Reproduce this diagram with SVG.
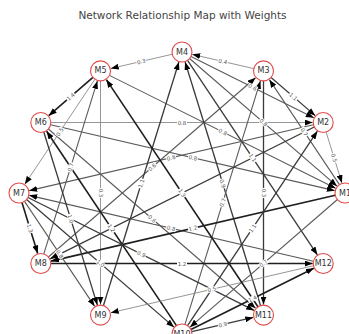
<svg xmlns="http://www.w3.org/2000/svg" width="349" height="334" viewBox="0 0 349 334">
<style>
.e1{stroke:#8a8a8a;stroke-width:0.9;fill:none}
.e2{stroke:#5a5a5a;stroke-width:1.1;fill:none}
.e3{stroke:#3a3a3a;stroke-width:1.3;fill:none}
.e4{stroke:#1e1e1e;stroke-width:1.6;fill:none}
.lbl rect{fill:#fff}
.lbl text{font-family:"DejaVu Sans",sans-serif;font-size:5.5px;fill:#555;text-anchor:middle;dominant-baseline:central}
.node circle{fill:#fff;stroke:#e04a4a;stroke-width:1.1}
.node text{font-family:"DejaVu Sans",sans-serif;font-size:8px;fill:#333;text-anchor:middle;dominant-baseline:central}
.title{font-family:"DejaVu Sans",sans-serif;font-size:10.5px;fill:#444;text-anchor:middle}
</style>
<defs>
<marker id="arr" markerUnits="userSpaceOnUse" markerWidth="8" markerHeight="6" refX="8" refY="3" orient="auto"><path d="M0,0 L8,3 L0,6 z" fill="#000"/></marker>
</defs>
<rect width="349" height="334" fill="#fff"/>
<text class="title" x="182.5" y="18.5">Network Relationship Map with Weights</text>
<g id="edges" marker-end="url(#arr)">
<line class="e1" x1="172.26" y1="54.26" x2="110.73" y2="68.53"/>
<line class="e1" x1="253.76" y1="68.64" x2="192.23" y2="54.37"/>
<line class="e4" x1="92.93" y1="77.44" x2="48.74" y2="115.63"/>
<line class="e3" x1="271.07" y1="77.44" x2="315.26" y2="115.63"/>
<line class="e2" x1="190.95" y1="56.47" x2="313.81" y2="117.81"/>
<line class="e1" x1="50.8" y1="122.5" x2="312.7" y2="122.5"/>
<line class="e2" x1="189.56" y1="58.54" x2="337.06" y2="186.13"/>
<line class="e2" x1="109.45" y1="75.37" x2="335.61" y2="188.31"/>
<line class="e2" x1="339.45" y1="184.68" x2="269.33" y2="79.63"/>
<line class="e1" x1="326.15" y1="132.05" x2="341.9" y2="182.97"/>
<line class="e2" x1="313.46" y1="124.76" x2="29.23" y2="190.63"/>
<line class="e2" x1="50.54" y1="124.76" x2="334.77" y2="190.63"/>
<line class="e2" x1="48.4" y1="256.96" x2="255.56" y2="77.77"/>
<line class="e1" x1="94.95" y1="79.22" x2="24.83" y2="184.27"/>
<line class="e2" x1="43.8" y1="253.95" x2="97.39" y2="80.93"/>
<line class="e1" x1="100.5" y1="80.9" x2="100.5" y2="304.6"/>
<line class="e3" x1="103.46" y1="305.55" x2="178.89" y2="62.03"/>
<line class="e3" x1="260.54" y1="305.55" x2="185.11" y2="62.03"/>
<line class="e3" x1="263.5" y1="80.9" x2="263.5" y2="304.6"/>
<line class="e3" x1="187.55" y1="60.32" x2="317.37" y2="254.77"/>
<line class="e2" x1="184.96" y1="324.45" x2="260.39" y2="80.93"/>
<line class="e2" x1="48.36" y1="129.04" x2="255.56" y2="308.23"/>
<line class="e2" x1="313.46" y1="261.24" x2="29.23" y2="195.37"/>
<line class="e4" x1="335.26" y1="195.26" x2="51.03" y2="261.13"/>
<line class="e4" x1="176.45" y1="325.68" x2="46.63" y2="131.23"/>
<line class="e4" x1="21.95" y1="202.55" x2="37.7" y2="253.47"/>
<line class="e3" x1="43.8" y1="132.05" x2="97.39" y2="305.07"/>
<line class="e2" x1="24.55" y1="201.32" x2="94.67" y2="306.37"/>
<line class="e3" x1="26.56" y1="199.54" x2="174.06" y2="327.13"/>
<line class="e3" x1="27.95" y1="197.47" x2="254.11" y2="310.41"/>
<line class="e3" x1="187.55" y1="325.68" x2="317.37" y2="131.23"/>
<line class="e4" x1="50.8" y1="263.5" x2="312.7" y2="263.5"/>
<line class="e2" x1="337.44" y1="199.54" x2="189.94" y2="327.13"/>
<line class="e1" x1="313.46" y1="265.76" x2="110.73" y2="312.73"/>
<line class="e4" x1="190.95" y1="329.53" x2="313.81" y2="268.19"/>
<line class="e3" x1="191.74" y1="331.74" x2="253.27" y2="317.47"/>
<line class="e4" x1="257.95" y1="306.78" x2="106.33" y2="79.63"/>
<line class="e3" x1="314.25" y1="126.97" x2="50.19" y2="258.81"/>
</g>
<g id="edge-labels">
<g class="lbl" transform="translate(141.25,61.45) rotate(-13.06)"><rect x="-5" y="-2.8" width="10" height="5.6"/><text>0.3</text></g>
<g class="lbl" transform="translate(222.75,61.45) rotate(13.06)"><rect x="-5" y="-2.8" width="10" height="5.6"/><text>0.4</text></g>
<g class="lbl" transform="translate(70.65,96.7) rotate(-40.83)"><rect x="-5" y="-2.8" width="10" height="5.6"/><text>1.4</text></g>
<g class="lbl" transform="translate(293.35,96.7) rotate(40.83)"><rect x="-5" y="-2.8" width="10" height="5.6"/><text>1.1</text></g>
<g class="lbl" transform="translate(252.6,87.25) rotate(26.53)"><rect x="-5" y="-2.8" width="10" height="5.6"/><text>0.6</text></g>
<g class="lbl" transform="translate(182,122.5)"><rect x="-5" y="-2.8" width="10" height="5.6"/><text>0.8</text></g>
<g class="lbl" transform="translate(263.5,122.5) rotate(40.86)"><rect x="-5" y="-2.8" width="10" height="5.6"/><text>0.8</text></g>
<g class="lbl" transform="translate(222.75,131.95) rotate(26.53)"><rect x="-5" y="-2.8" width="10" height="5.6"/><text>0.8</text></g>
<g class="lbl" transform="translate(304.25,131.95) rotate(56.27)"><rect x="-5" y="-2.8" width="10" height="5.6"/><text>0.7</text></g>
<g class="lbl" transform="translate(334.1,157.75) rotate(72.82)"><rect x="-5" y="-2.8" width="10" height="5.6"/><text>0.5</text></g>
<g class="lbl" transform="translate(171.1,157.75) rotate(-13.05)"><rect x="-5" y="-2.8" width="10" height="5.6"/><text>0.8</text></g>
<g class="lbl" transform="translate(192.9,157.75) rotate(13.05)"><rect x="-5" y="-2.8" width="10" height="5.6"/><text>0.8</text></g>
<g class="lbl" transform="translate(152.15,167.2) rotate(-40.86)"><rect x="-5" y="-2.8" width="10" height="5.6"/><text>0.6</text></g>
<g class="lbl" transform="translate(59.75,131.95) rotate(-56.27)"><rect x="-5" y="-2.8" width="10" height="5.6"/><text>0.5</text></g>
<g class="lbl" transform="translate(70.65,167.2) rotate(-72.78)"><rect x="-5" y="-2.8" width="10" height="5.6"/><text>0.7</text></g>
<g class="lbl" transform="translate(100.5,193) rotate(90)"><rect x="-5" y="-2.8" width="10" height="5.6"/><text>0.3</text></g>
<g class="lbl" transform="translate(141.25,183.55) rotate(-72.79)"><rect x="-5" y="-2.8" width="10" height="5.6"/><text>1.1</text></g>
<g class="lbl" transform="translate(222.75,183.55) rotate(72.79)"><rect x="-5" y="-2.8" width="10" height="5.6"/><text>0.9</text></g>
<g class="lbl" transform="translate(263.5,193) rotate(90)"><rect x="-5" y="-2.8" width="10" height="5.6"/><text>0.3</text></g>
<g class="lbl" transform="translate(252.6,157.75) rotate(56.27)"><rect x="-5" y="-2.8" width="10" height="5.6"/><text>1.1</text></g>
<g class="lbl" transform="translate(222.75,202.45) rotate(-72.79)"><rect x="-5" y="-2.8" width="10" height="5.6"/><text>0.7</text></g>
<g class="lbl" transform="translate(152.15,218.8) rotate(40.86)"><rect x="-5" y="-2.8" width="10" height="5.6"/><text>0.6</text></g>
<g class="lbl" transform="translate(171.1,228.25) rotate(13.05)"><rect x="-5" y="-2.8" width="10" height="5.6"/><text>0.8</text></g>
<g class="lbl" transform="translate(192.9,228.25) rotate(-13.05)"><rect x="-5" y="-2.8" width="10" height="5.6"/><text>1.2</text></g>
<g class="lbl" transform="translate(111.4,228.25) rotate(56.27)"><rect x="-5" y="-2.8" width="10" height="5.6"/><text>1.2</text></g>
<g class="lbl" transform="translate(29.9,228.25) rotate(72.82)"><rect x="-5" y="-2.8" width="10" height="5.6"/><text>1.3</text></g>
<g class="lbl" transform="translate(70.65,218.8) rotate(72.78)"><rect x="-5" y="-2.8" width="10" height="5.6"/><text>1.0</text></g>
<g class="lbl" transform="translate(59.75,254.05) rotate(56.27)"><rect x="-5" y="-2.8" width="10" height="5.6"/><text>0.8</text></g>
<g class="lbl" transform="translate(100.5,263.5) rotate(40.86)"><rect x="-5" y="-2.8" width="10" height="5.6"/><text>1.0</text></g>
<g class="lbl" transform="translate(141.25,254.05) rotate(26.53)"><rect x="-5" y="-2.8" width="10" height="5.6"/><text>0.9</text></g>
<g class="lbl" transform="translate(252.6,228.25) rotate(-56.27)"><rect x="-5" y="-2.8" width="10" height="5.6"/><text>1.1</text></g>
<g class="lbl" transform="translate(182,263.5)"><rect x="-5" y="-2.8" width="10" height="5.6"/><text>1.2</text></g>
<g class="lbl" transform="translate(263.5,263.5) rotate(-40.86)"><rect x="-5" y="-2.8" width="10" height="5.6"/><text>0.7</text></g>
<g class="lbl" transform="translate(211.85,289.3) rotate(-13.05)"><rect x="-5" y="-2.8" width="10" height="5.6"/><text>0.5</text></g>
<g class="lbl" transform="translate(252.6,298.75) rotate(-26.53)"><rect x="-5" y="-2.8" width="10" height="5.6"/><text>1.4</text></g>
<g class="lbl" transform="translate(222.75,324.55) rotate(-13.06)"><rect x="-5" y="-2.8" width="10" height="5.6"/><text>0.9</text></g>
<g class="lbl" transform="translate(182,193) rotate(56.28)"><rect x="-5" y="-2.8" width="10" height="5.6"/><text>1.3</text></g>
</g>
<g id="M1" class="node"><circle cx="345" cy="193" r="10"/><text x="345" y="193">M1</text></g>
<g id="M2" class="node"><circle cx="323.2" cy="122.5" r="10"/><text x="323.2" y="122.5">M2</text></g>
<g id="M3" class="node"><circle cx="263.5" cy="70.9" r="10"/><text x="263.5" y="70.9">M3</text></g>
<g id="M4" class="node"><circle cx="182" cy="52" r="10"/><text x="182" y="52">M4</text></g>
<g id="M5" class="node"><circle cx="100.5" cy="70.9" r="10"/><text x="100.5" y="70.9">M5</text></g>
<g id="M6" class="node"><circle cx="40.8" cy="122.5" r="10"/><text x="40.8" y="122.5">M6</text></g>
<g id="M7" class="node"><circle cx="19" cy="193" r="10"/><text x="19" y="193">M7</text></g>
<g id="M8" class="node"><circle cx="40.8" cy="263.5" r="10"/><text x="40.8" y="263.5">M8</text></g>
<g id="M9" class="node"><circle cx="100.5" cy="315.1" r="10"/><text x="100.5" y="315.1">M9</text></g>
<g id="M10" class="node"><circle cx="182" cy="334" r="10"/><text x="182" y="334">M10</text></g>
<g id="M11" class="node"><circle cx="263.5" cy="315.1" r="10"/><text x="263.5" y="315.1">M11</text></g>
<g id="M12" class="node"><circle cx="323.2" cy="263.5" r="10"/><text x="323.2" y="263.5">M12</text></g>
</svg>
